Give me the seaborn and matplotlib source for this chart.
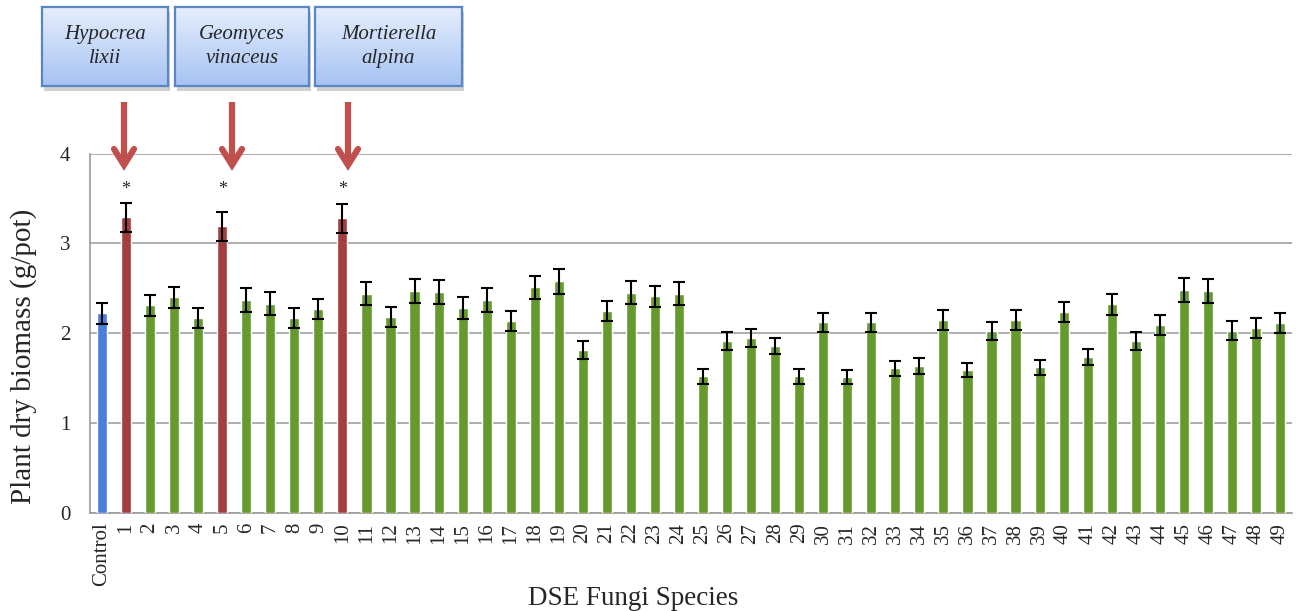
import numpy as np
import pandas as pd
import matplotlib
matplotlib.use("Agg")
import matplotlib.pyplot as plt
from matplotlib.colors import LinearSegmentedColormap
from matplotlib.patches import Rectangle
from matplotlib.lines import Line2D
import seaborn as sns

# ---- data -------------------------------------------------------------
categories = ["Control"] + [str(i) for i in range(1, 50)]
biomass = [
    2.22, 3.29, 2.31, 2.40, 2.17, 3.19, 2.37, 2.33, 2.17, 2.27,
    3.28, 2.44, 2.18, 2.47, 2.46, 2.28, 2.37, 2.14, 2.51, 2.58,
    1.81, 2.25, 2.45, 2.41, 2.44, 1.52, 1.91, 1.95, 1.86, 1.52,
    2.12, 1.51, 2.12, 1.61, 1.64, 2.15, 1.59, 2.03, 2.15, 1.62,
    2.24, 1.74, 2.32, 1.91, 2.09, 2.48, 2.47, 2.03, 2.06, 2.11,
]
std_err = [
    0.12, 0.16, 0.12, 0.12, 0.11, 0.16, 0.13, 0.13, 0.11, 0.11,
    0.16, 0.13, 0.11, 0.13, 0.13, 0.12, 0.13, 0.11, 0.13, 0.14,
    0.10, 0.11, 0.13, 0.12, 0.13, 0.08, 0.10, 0.10, 0.09, 0.08,
    0.11, 0.08, 0.11, 0.085, 0.09, 0.11, 0.08, 0.10, 0.11, 0.085,
    0.11, 0.09, 0.12, 0.10, 0.11, 0.13, 0.13, 0.11, 0.11, 0.11,
]
highlighted = ["1", "5", "10"]
species_names = ["Hypocrea\nlixii", "Geomyces\nvinaceus", "Mortierella\nalpina"]

COL_CONTROL = "#4A7EDE"
COL_HIGHLIGHT = "#A33E3F"
COL_OTHER = "#669A2E"
ARROW_COL = "#C0504D"

palette = {}
for c in categories:
    if c == "Control":
        palette[c] = COL_CONTROL
    elif c in highlighted:
        palette[c] = COL_HIGHLIGHT
    else:
        palette[c] = COL_OTHER

df = pd.DataFrame({"species": categories, "biomass": biomass, "err": std_err})

# ---- figure -----------------------------------------------------------
W, H = 1297, 611
sns.set_style("white")
plt.rcParams["font.family"] = ["Liberation Serif", "DejaVu Serif"]

fig = plt.figure(figsize=(W / 100, H / 100), dpi=100)
ax = fig.add_axes([90 / W, 1 - 513 / H, (1292 - 90) / W, (513 - 153.5) / H])

sns.barplot(data=df, x="species", y="biomass", hue="species", order=categories,
            palette=palette, legend=False, width=0.42, saturation=1,
            errorbar=None, ax=ax, zorder=3)

xpos = np.arange(len(categories))
ax.errorbar(xpos, df["biomass"], yerr=df["err"], fmt="none", ecolor="black",
            elinewidth=1.5, capsize=4, capthick=1.5, zorder=4)

ax.set_xlim(-0.5, len(categories) - 0.5)
ax.set_ylim(0, 4)
ax.set_yticks([0, 1, 2, 3, 4])
ax.yaxis.grid(True, color="#A0A0A0", linewidth=1.2, zorder=0)
ax.set_axisbelow(True)

for side in ["top", "right"]:
    ax.spines[side].set_visible(False)
for side in ["left", "bottom"]:
    ax.spines[side].set_color("#9A9A9A")
    ax.spines[side].set_linewidth(1.2)

# tick marks sit between categories on the x axis
ax.set_xticks(xpos)
ax.set_xticklabels(categories, rotation=90, fontsize=15)
ax.set_xticks(np.arange(-0.5, len(categories), 1.0), minor=True)
ax.tick_params(axis="x", which="major", length=0, pad=7)
ax.tick_params(axis="x", which="minor", length=5, width=1.1, color="#9A9A9A",
               direction="out")
ax.tick_params(axis="y", length=6, width=1.1, color="#9A9A9A",
               direction="out", labelsize=15, pad=8)
ax.set_xlabel("")
ax.set_ylabel("")

fig.text(633 / W, 1 - 605 / H, "DSE Fungi Species", fontsize=19.5,
         ha="center", va="baseline")
fig.text(24 / W, 1 - 356 / H, "Plant dry biomass (g/pot)", fontsize=21,
         rotation=90, ha="center", va="center")

# significance marks
for name in highlighted:
    i = categories.index(name)
    ax.text(i, 3.6, "*", ha="center", va="center", fontsize=13, zorder=5)

# ---- species boxes and arrows ----------------------------------------
grad_cmap = LinearSegmentedColormap.from_list("box", ["#E6EEFC", "#A6C3F4"])
boxes_px = [(42, 168), (175, 309), (315, 462)]
box_top, box_bottom = 7, 86
gradient = np.linspace(0, 1, 200)[:, None]

for (x0, x1), label in zip(boxes_px, species_names):
    # drop shadow
    fig.patches.append(Rectangle(((x0 + 2) / W, 1 - (box_bottom + 5) / H),
                                 (x1 - x0) / W, (box_bottom - box_top) / H,
                                 transform=fig.transFigure, facecolor="#8A8A8A",
                                 alpha=0.4, edgecolor="none", zorder=-1))
    bax = fig.add_axes([x0 / W, 1 - box_bottom / H, (x1 - x0) / W,
                        (box_bottom - box_top) / H])
    bax.imshow(gradient, cmap=grad_cmap, aspect="auto", extent=[0, 1, 0, 1])
    bax.set_xticks([])
    bax.set_yticks([])
    for sp in bax.spines.values():
        sp.set_color("#5A86C2")
        sp.set_linewidth(1.6)
    bax.text(0.5, 0.5, label, ha="center", va="center", fontsize=15,
             style="italic", linespacing=1.35, transform=bax.transAxes)

arrow_x = [124, 232, 348]
for x in arrow_x:
    shaft = Line2D([x / W, x / W], [1 - 102 / H, 1 - 164 / H],
                   transform=fig.transFigure, color=ARROW_COL, linewidth=4.5,
                   solid_capstyle="butt", zorder=6)
    head = Line2D([(x - 10) / W, x / W, (x + 10) / W],
                  [1 - 149 / H, 1 - 165 / H, 1 - 149 / H],
                  transform=fig.transFigure, color=ARROW_COL, linewidth=4.5,
                  solid_capstyle="round", solid_joinstyle="miter", zorder=6)
    fig.add_artist(shaft)
    fig.add_artist(head)

fig.savefig("out.png", dpi=100)
